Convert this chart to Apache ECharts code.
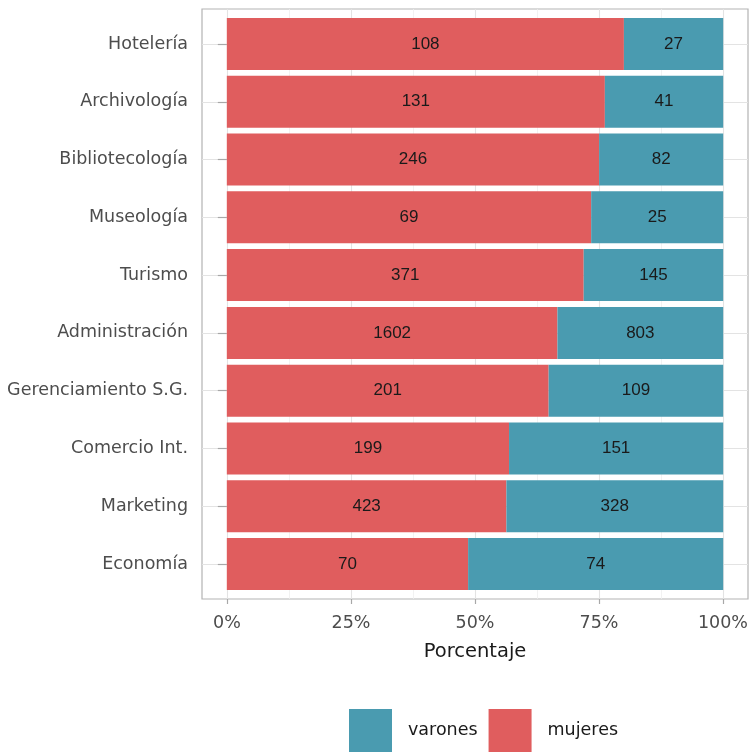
<!DOCTYPE html>
<html><head><meta charset="utf-8">
<script src="https://cdn.jsdelivr.net/npm/echarts@6/dist/echarts.min.js"></script>
<style>html,body{margin:0;padding:0;background:#fff}#c{width:751px;height:753px}</style>
</head><body><div id="c"></div>
<script>
const categories = ['Hotelería','Archivología','Bibliotecología','Museología','Turismo','Administración','Gerenciamiento S.G.','Comercio Int.','Marketing','Economía'];
const mujeres = [108,131,246,69,371,1602,201,199,423,70];
const varones = [27,41,82,25,145,803,109,151,328,74];
const xTicks = [0,0.25,0.5,0.75,1];

const catsRev = categories.slice().reverse();
const mRev = mujeres.slice().reverse();
const vRev = varones.slice().reverse();
const mData = mRev.map((m,i)=>({value: m/(m+vRev[i]), count: m}));
const vData = vRev.map((v,i)=>({value: v/(v+mRev[i]), count: v}));

const chart = echarts.init(document.getElementById('c'), null, {renderer:'canvas'});
const font = 'DejaVu Sans';
const labelStyle = {show:true, position:'inside', color:'#1a1a1a', fontFamily:'Liberation Sans', fontSize:17, formatter: p => p.data.count};
chart.setOption({
  animation:false,
  grid:[
    {left:202, top:9, width:546, height:590, show:true, borderColor:'#B3B3B3', borderWidth:1.2, backgroundColor:'transparent'},
    {left:227, top:9, width:496, height:590},
    {left:202, top:44, width:546, height:520}
  ],
  xAxis:[
    {gridIndex:0, type:'value', min:0, max:1, show:false},
    {gridIndex:1, type:'value', min:0, max:1, interval:0.25,
      axisLine:{show:false},
      axisTick:{show:true, length:5, lineStyle:{color:'#A8A8A8', width:1.2}},
      axisLabel:{color:'#4D4D4D', fontFamily:font, fontSize:17.5, margin:15, formatter: v => Math.round(v*100)+'%'},
      splitLine:{show:true, lineStyle:{color:'#E3E3E3', width:1.1}},
      minorTick:{show:false, splitNumber:2},
      minorSplitLine:{show:true, lineStyle:{color:'#EFEFEF', width:0.8}},
      name:'Porcentaje', nameLocation:'middle', nameGap:43,
      nameTextStyle:{color:'#1a1a1a', fontFamily:font, fontSize:19.5}
    },
    {gridIndex:2, type:'value', min:-0.05, max:1.05, show:false}
  ],
  yAxis:[
    {gridIndex:0, type:'value', show:false},
    {gridIndex:1, type:'value', show:false},
    {gridIndex:2, type:'category', data:catsRev, boundaryGap:false,
      axisLine:{show:false},
      axisTick:{show:true, length:9, lineStyle:{color:'#A8A8A8', width:1.2}},
      axisLabel:{color:'#4D4D4D', fontFamily:font, fontSize:17.5, margin:14},
      splitLine:{show:true, lineStyle:{color:'#E3E3E3', width:1.1}}
    }
  ],
  legend:{
    data:['varones','mujeres'], left:344, top:704, itemWidth:43, itemHeight:43, itemGap:11,
    icon:'rect', textStyle:{color:'#1a1a1a', fontFamily:font, fontSize:17.5, padding:[0,0,0,11]}
  },
  series:[
    {name:'mujeres', type:'bar', stack:'t', xAxisIndex:2, yAxisIndex:2, data:mData, barWidth:52, clip:false,
      itemStyle:{color:'#E05D5E'}, label:labelStyle},
    {name:'varones', type:'bar', stack:'t', xAxisIndex:2, yAxisIndex:2, data:vData, barWidth:52, clip:false,
      itemStyle:{color:'#4A9BB0'}, label:labelStyle}
  ]
});
</script></body></html>
